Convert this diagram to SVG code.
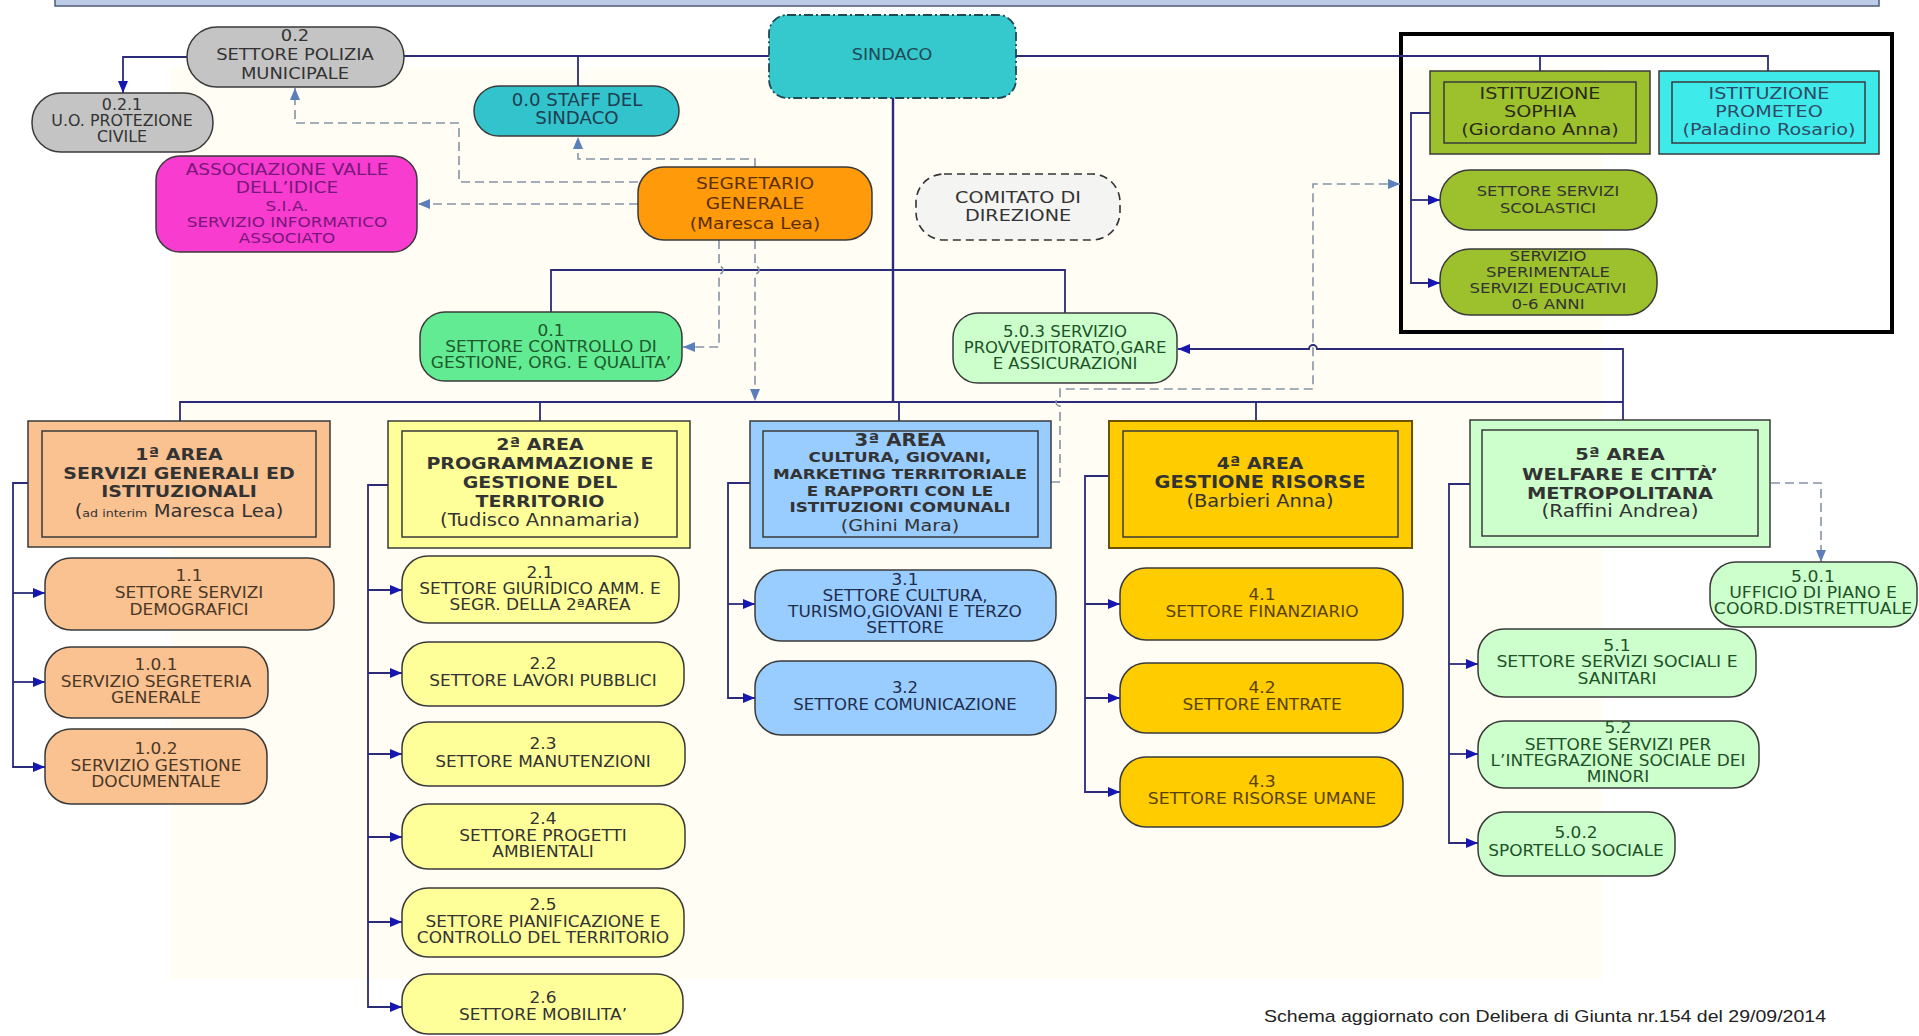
<svg xmlns="http://www.w3.org/2000/svg" width="1919" height="1036" viewBox="0 0 1919 1036">
<defs>
<style>
text{font-family:"DejaVu Sans",Verdana,"Liberation Sans",sans-serif;font-size:15px;text-anchor:middle;fill:#333}
.f14 text{font-size:14px}
.f16 text{font-size:16px}
.f17 text{font-size:17px}
.bd{font-weight:bold;font-size:16.5px}
.nm{font-size:17px}
.bx{stroke:#3a3a3a;stroke-width:1.5}
.in{fill:none;stroke:#3a3a3a;stroke-width:1.5}
.ln{fill:none;stroke:#2b2b7a;stroke-width:1.8}
.dl{fill:none;stroke:#8793a6;stroke-width:1.6;stroke-dasharray:9 5}
.gy{fill:#c4c4c4}
.pe{fill:#fac191}
.ye{fill:#ffff99}
.bl{fill:#99ccff}
.go{fill:#ffcc00}
.lg{fill:#ccffcc}
.ol{fill:#9dc12d}
.t1 text{fill:#4a3826}
.t3 text{fill:#1f2d4d}
.t4 text{fill:#5a4300}
.t5 text{fill:#1d5228}
</style>
<marker id="ar" viewBox="0 0 12 10" refX="12" refY="5" markerWidth="12" markerHeight="10" markerUnits="userSpaceOnUse" orient="auto"><path d="M0,0L12,5L0,10z" fill="#1616b0"/></marker>
<marker id="ad" viewBox="0 0 12 10" refX="12" refY="5" markerWidth="12" markerHeight="10" markerUnits="userSpaceOnUse" orient="auto"><path d="M0,0L12,5L0,10z" fill="#5b7fb8"/></marker>
</defs>
<rect width="1919" height="1036" fill="#ffffff"/>
<g id="background">
<rect x="171" y="67" width="1432" height="912" fill="#fffdf4"/>
</g>
<rect id="topbar" x="55" y="-6" width="1824" height="12" fill="#bccbe6" stroke="#4d5b78" stroke-width="1.5"/>
<rect id="istituzioni-frame" x="1401" y="34" width="491" height="298" fill="none" stroke="#000" stroke-width="4"/>

<g id="connectors">
<path class="ln" d="M187 57H123V93" marker-end="url(#ar)"/>
<path class="ln" d="M404 56H769"/>
<path class="ln" d="M578 56V86"/>
<path class="ln" d="M1016 56H1768V71"/>
<path class="ln" d="M1540 56V71"/>
<path class="ln" style="stroke-width:2.4" d="M893 98V402"/>
<path class="ln" d="M551 312V270H1065V313"/>
<path class="ln" d="M180 421V402H1623"/>
<path class="ln" d="M540 402V421M899 402V421M1256 402V421"/>
<path class="ln" d="M1623 420V349H1317A4 4 0 0 0 1309 349H1178" marker-end="url(#ar)"/>
<path class="ln" d="M1430 113H1411V283H1440" marker-end="url(#ar)"/>
<path class="ln" d="M1411 200H1440" marker-end="url(#ar)"/>
<path class="ln" d="M28 483H13V767H45" marker-end="url(#ar)"/>
<path class="ln" d="M13 593H45" marker-end="url(#ar)"/>
<path class="ln" d="M13 682H45" marker-end="url(#ar)"/>
<path class="ln" d="M388 485H368V1007H402" marker-end="url(#ar)"/>
<path class="ln" d="M368 590H402" marker-end="url(#ar)"/>
<path class="ln" d="M368 673H402" marker-end="url(#ar)"/>
<path class="ln" d="M368 754H402" marker-end="url(#ar)"/>
<path class="ln" d="M368 837H402" marker-end="url(#ar)"/>
<path class="ln" d="M368 922H402" marker-end="url(#ar)"/>
<path class="ln" d="M750 483H728V698H755" marker-end="url(#ar)"/>
<path class="ln" d="M728 604H755" marker-end="url(#ar)"/>
<path class="ln" d="M1109 476H1085V792H1120" marker-end="url(#ar)"/>
<path class="ln" d="M1085 604H1120" marker-end="url(#ar)"/>
<path class="ln" d="M1085 698H1120" marker-end="url(#ar)"/>
<path class="ln" d="M1470 484H1449V843H1478" marker-end="url(#ar)"/>
<path class="ln" d="M1449 664H1478" marker-end="url(#ar)"/>
<path class="ln" d="M1449 754H1478" marker-end="url(#ar)"/>
<path class="dl" d="M638 182H459V123H295V88" marker-end="url(#ad)"/>
<path class="dl" d="M755 167V159H578V137" marker-end="url(#ad)"/>
<path class="dl" d="M638 204H418" marker-end="url(#ad)"/>
<path class="dl" d="M719 240V266A4 4 0 0 1 719 274V347H683" marker-end="url(#ad)"/>
<path class="dl" d="M755 240V266A4 4 0 0 1 755 274V401" marker-end="url(#ad)"/>
<path class="dl" d="M1051 482H1060V406A4 4 0 0 1 1060 398V389H1313V184H1400" marker-end="url(#ad)"/>
<path class="dl" d="M1771 483H1821V562" marker-end="url(#ad)"/>
</g>

<g id="sindaco"><rect x="769" y="15" width="247" height="83" rx="18" fill="#35c8cc" stroke="#1e4a55" stroke-width="1.8" stroke-dasharray="9 3 2 3"/><g class="f16" transform="translate(892 0) scale(1.1 1)"><text y="60" style="fill:#1f4a55">SINDACO</text></g></g>

<g id="polizia"><rect class="bx gy" x="187" y="27" width="217" height="60" rx="30"/><g class="f16" transform="translate(295 0) scale(1.12 1)"><text y="41">0.2</text><text y="60">SETTORE POLIZIA</text><text y="79">MUNICIPALE</text></g></g>

<g id="protezione-civile"><rect class="bx gy" x="32" y="93" width="181" height="59" rx="29"/><g transform="translate(122 0) scale(1.06 1)"><text y="110">0.2.1</text><text y="126">U.O. PROTEZIONE</text><text y="142">CIVILE</text></g></g>

<g id="staff"><rect class="bx" x="474" y="86" width="205" height="50" rx="25" fill="#33c3cc"/><g class="f17" transform="translate(577 0) scale(1.07 1)"><text y="106" style="fill:#1f3d50">0.0 STAFF DEL</text><text y="124" style="fill:#1f3d50">SINDACO</text></g></g>

<g id="associazione"><rect class="bx" x="156" y="156" width="261" height="96" rx="24" fill="#f73ccf"/><g transform="translate(287 0) scale(1.16 1)"><text y="175" style="font-size:16px;fill:#7a177a">ASSOCIAZIONE VALLE</text><text y="193" style="font-size:16px;fill:#7a177a">DELL’IDICE</text><text y="211" style="font-size:14.5px;fill:#7a177a">S.I.A.</text><text y="227" style="font-size:14.5px;fill:#7a177a">SERVIZIO INFORMATICO</text><text y="243" style="font-size:14.5px;fill:#7a177a">ASSOCIATO</text></g></g>

<g id="segretario"><rect class="bx" x="638" y="167" width="234" height="73" rx="26" fill="#ff9a0a"/><g class="f16" transform="translate(755 0) scale(1.16 1)"><text y="189" style="fill:#5c2e00">SEGRETARIO</text><text y="209" style="fill:#5c2e00">GENERALE</text><text y="229" style="fill:#5c2e00">(Maresca Lea)</text></g></g>

<g id="comitato"><rect x="916" y="174" width="204" height="66" rx="28" fill="#f4f4f2" stroke="#333" stroke-width="1.6" stroke-dasharray="8 5"/><g class="f16" transform="translate(1018 0) scale(1.2 1)"><text y="203">COMITATO DI</text><text y="221">DIREZIONE</text></g></g>

<g id="sophia"><rect class="bx ol" x="1430" y="71" width="220" height="83"/><rect class="in" x="1444" y="82" width="192" height="61"/><g class="f16" transform="translate(1540 0) scale(1.2 1)"><text y="99" style="fill:#2a2a1a">ISTITUZIONE</text><text y="117" style="fill:#2a2a1a">SOPHIA</text><text y="135" style="fill:#2a2a1a">(Giordano Anna)</text></g></g>

<g id="prometeo"><rect class="bx" x="1659" y="71" width="220" height="83" fill="#3feaea"/><rect class="in" x="1672" y="82" width="193" height="61"/><g class="f16" transform="translate(1769 0) scale(1.2 1)"><text y="99" style="fill:#2f4a66">ISTITUZIONE</text><text y="117" style="fill:#2f4a66">PROMETEO</text><text y="135" style="fill:#2f4a66">(Paladino Rosario)</text></g></g>

<g id="scolastici"><rect class="bx ol" x="1440" y="170" width="217" height="60" rx="30"/><g class="f14" transform="translate(1548 0) scale(1.16 1)"><text y="196">SETTORE SERVIZI</text><text y="213">SCOLASTICI</text></g></g>

<g id="sperimentale"><rect class="bx ol" x="1440" y="249" width="217" height="66" rx="30"/><g class="f14" transform="translate(1548 0) scale(1.18 1)"><text y="261">SERVIZIO</text><text y="277">SPERIMENTALE</text><text y="293">SERVIZI EDUCATIVI</text><text y="309">0-6 ANNI</text></g></g>

<g id="controllo-gestione"><rect class="bx" x="420" y="312" width="262" height="69" rx="25" fill="#62eb93"/><g transform="translate(551 0) scale(1.13 1)"><text y="336" style="fill:#1d5a2c">0.1</text><text y="352" style="fill:#1d5a2c">SETTORE CONTROLLO DI</text><text y="368" style="fill:#1d5a2c">GESTIONE, ORG. E QUALITA’</text></g></g>

<g id="provveditorato" class="t5"><rect class="bx lg" x="953" y="313" width="224" height="70" rx="25"/><g transform="translate(1065 0) scale(1.1 1)"><text y="337">5.0.3 SERVIZIO</text><text y="353">PROVVEDITORATO,GARE</text><text y="369">E ASSICURAZIONI</text></g></g>

<g id="area1"><rect class="bx pe" x="28" y="421" width="302" height="126"/><rect class="in" x="42" y="431" width="274" height="106"/><g transform="translate(179 0) scale(1.15 1)"><text class="bd" y="460">1ª AREA</text><text class="bd" y="479">SERVIZI GENERALI ED</text><text class="bd" y="497">ISTITUZIONALI</text><text class="nm" y="517">(<tspan style="font-size:11px">ad interim</tspan> Maresca Lea)</text></g></g>

<g id="area2"><rect class="bx ye" x="388" y="421" width="302" height="127"/><rect class="in" x="402" y="431" width="275" height="106"/><g transform="translate(540 0) scale(1.15 1)"><text class="bd" y="450">2ª AREA</text><text class="bd" y="469">PROGRAMMAZIONE E</text><text class="bd" y="488">GESTIONE DEL</text><text class="bd" y="507">TERRITORIO</text><text class="nm" y="526">(Tudisco Annamaria)</text></g></g>

<g id="area3"><rect class="bx bl" x="750" y="421" width="301" height="127"/><rect class="in" x="763" y="431" width="275" height="106"/><g transform="translate(900 0) scale(1.16 1)"><text class="bd" y="446" style="font-size:17px">3ª AREA</text><text class="bd" y="462" style="font-size:14.5px">CULTURA, GIOVANI,</text><text class="bd" y="479" style="font-size:14.5px">MARKETING TERRITORIALE</text><text class="bd" y="496" style="font-size:14.5px">E RAPPORTI CON LE</text><text class="bd" y="512" style="font-size:14.5px">ISTITUZIONI COMUNALI</text><text class="nm" y="531" style="font-size:16.5px">(Ghini Mara)</text></g></g>

<g id="area4"><rect class="go" x="1109" y="421" width="303" height="127" stroke="#6b5200" stroke-width="2"/><rect class="in" x="1123" y="431" width="275" height="106"/><g transform="translate(1260 0) scale(1.14 1)"><text class="bd" y="469">4ª AREA</text><text class="bd" y="488" style="font-size:17px">GESTIONE RISORSE</text><text class="nm" y="507">(Barbieri Anna)</text></g></g>

<g id="area5"><rect class="bx lg" x="1470" y="420" width="300" height="127"/><rect class="in" x="1482" y="430" width="276" height="106"/><g transform="translate(1620 0) scale(1.18 1)"><text class="bd" y="460">5ª AREA</text><text class="bd" y="480">WELFARE E CITTÀ’</text><text class="bd" y="499">METROPOLITANA</text><text class="nm" y="517">(Raffini Andrea)</text></g></g>

<g id="s1-1" class="t1"><rect class="bx pe" x="45" y="558" width="289" height="72" rx="26"/><g transform="translate(189 0) scale(1.13 1)"><text y="581">1.1</text><text y="598">SETTORE SERVIZI</text><text y="615">DEMOGRAFICI</text></g></g>
<g id="s1-0-1" class="t1"><rect class="bx pe" x="45" y="647" width="223" height="71" rx="26"/><g transform="translate(156 0) scale(1.13 1)"><text y="670">1.0.1</text><text y="687">SERVIZIO SEGRETERIA</text><text y="703">GENERALE</text></g></g>
<g id="s1-0-2" class="t1"><rect class="bx pe" x="45" y="729" width="222" height="75" rx="26"/><g transform="translate(156 0) scale(1.13 1)"><text y="754">1.0.2</text><text y="771">SERVIZIO GESTIONE</text><text y="787">DOCUMENTALE</text></g></g>

<g id="s2-1"><rect class="bx ye" x="402" y="556" width="277" height="67" rx="26"/><g transform="translate(540 0) scale(1.13 1)"><text y="578">2.1</text><text y="594">SETTORE GIURIDICO AMM. E</text><text y="610">SEGR. DELLA 2ªAREA</text></g></g>
<g id="s2-2"><rect class="bx ye" x="402" y="642" width="282" height="64" rx="26"/><g transform="translate(543 0) scale(1.13 1)"><text y="669">2.2</text><text y="686">SETTORE LAVORI PUBBLICI</text></g></g>
<g id="s2-3"><rect class="bx ye" x="402" y="722" width="283" height="64" rx="26"/><g transform="translate(543 0) scale(1.13 1)"><text y="749">2.3</text><text y="767">SETTORE MANUTENZIONI</text></g></g>
<g id="s2-4"><rect class="bx ye" x="402" y="804" width="283" height="65" rx="26"/><g transform="translate(543 0) scale(1.13 1)"><text y="824">2.4</text><text y="841">SETTORE PROGETTI</text><text y="857">AMBIENTALI</text></g></g>
<g id="s2-5"><rect class="bx ye" x="402" y="888" width="282" height="69" rx="26"/><g transform="translate(543 0) scale(1.13 1)"><text y="910">2.5</text><text y="927">SETTORE PIANIFICAZIONE E</text><text y="943">CONTROLLO DEL TERRITORIO</text></g></g>
<g id="s2-6"><rect class="bx ye" x="402" y="974" width="281" height="60" rx="26"/><g transform="translate(543 0) scale(1.13 1)"><text y="1003">2.6</text><text y="1020">SETTORE MOBILITA’</text></g></g>

<g id="s3-1" class="t3"><rect class="bx bl" x="755" y="570" width="301" height="71" rx="26"/><g transform="translate(905 0) scale(1.13 1)"><text y="585">3.1</text><text y="601">SETTORE CULTURA,</text><text y="617">TURISMO,GIOVANI E TERZO</text><text y="633">SETTORE</text></g></g>
<g id="s3-2" class="t3"><rect class="bx bl" x="755" y="661" width="301" height="74" rx="26"/><g transform="translate(905 0) scale(1.1 1)"><text y="693">3.2</text><text y="710">SETTORE COMUNICAZIONE</text></g></g>

<g id="s4-1" class="t4"><rect class="bx go" x="1120" y="568" width="283" height="72" rx="26"/><g transform="translate(1262 0) scale(1.13 1)"><text y="600">4.1</text><text y="617">SETTORE FINANZIARIO</text></g></g>
<g id="s4-2" class="t4"><rect class="bx go" x="1120" y="663" width="283" height="70" rx="26"/><g transform="translate(1262 0) scale(1.13 1)"><text y="693">4.2</text><text y="710">SETTORE ENTRATE</text></g></g>
<g id="s4-3" class="t4"><rect class="bx go" x="1120" y="757" width="283" height="70" rx="26"/><g transform="translate(1262 0) scale(1.15 1)"><text y="787">4.3</text><text y="804">SETTORE RISORSE UMANE</text></g></g>

<g id="s5-0-1" class="t5"><rect class="bx lg" x="1710" y="562" width="207" height="65" rx="26"/><g transform="translate(1813 0) scale(1.15 1)"><text y="582">5.0.1</text><text y="598">UFFICIO DI PIANO E</text><text y="614">COORD.DISTRETTUALE</text></g></g>
<g id="s5-1" class="t5"><rect class="bx lg" x="1478" y="629" width="278" height="68" rx="26"/><g transform="translate(1617 0) scale(1.15 1)"><text y="651">5.1</text><text y="667">SETTORE SERVIZI SOCIALI E</text><text y="684">SANITARI</text></g></g>
<g id="s5-2" class="t5"><rect class="bx lg" x="1478" y="721" width="281" height="67" rx="26"/><g transform="translate(1618 0) scale(1.13 1)"><text y="733">5.2</text><text y="750">SETTORE SERVIZI PER</text><text y="766">L’INTEGRAZIONE SOCIALE DEI</text><text y="782">MINORI</text></g></g>
<g id="s5-0-2" class="t5"><rect class="bx lg" x="1478" y="812" width="197" height="64" rx="26"/><g transform="translate(1576 0) scale(1.13 1)"><text y="838">5.0.2</text><text y="856">SPORTELLO SOCIALE</text></g></g>

<text id="footer" x="1545" y="1022" style="font-family:'Liberation Sans',Arial,sans-serif;font-size:17px;fill:#222" textLength="562" lengthAdjust="spacingAndGlyphs">Schema aggiornato con Delibera di Giunta nr.154  del 29/09/2014</text>
</svg>
